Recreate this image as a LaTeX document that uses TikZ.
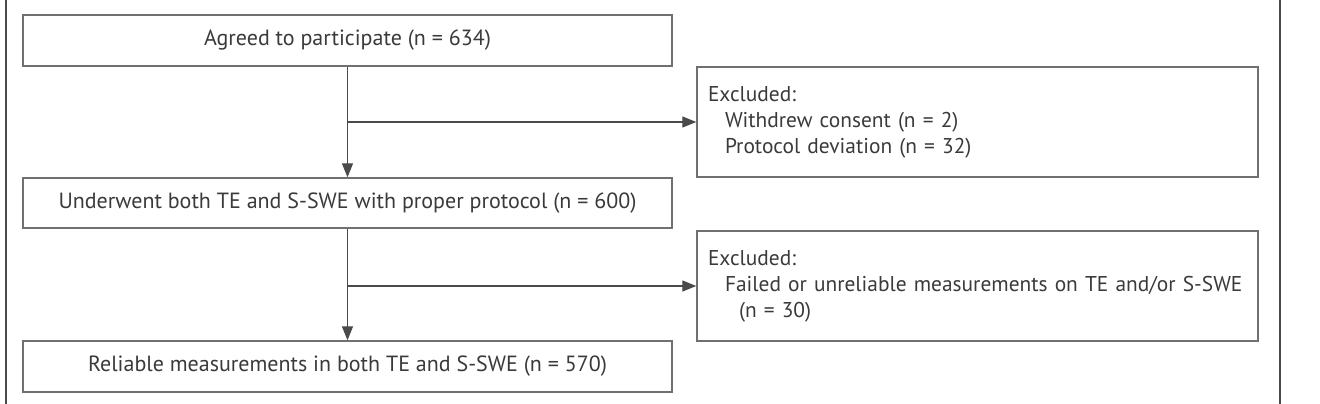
\documentclass[tikz,border=0pt]{standalone}
\usepackage{fontspec}
\setmainfont{PT Sans}
\usetikzlibrary{arrows.meta}
\definecolor{boxgray}{HTML}{707070}
\definecolor{txtgray}{HTML}{3A3A3A}
\definecolor{linegray}{HTML}{4A4A4A}
\tikzset{
  mainbox/.style={draw=boxgray, line width=1.4pt, minimum width=649pt, text=txtgray, font=\fontsize{22}{26}\selectfont, inner sep=0pt, align=center},
  exbox/.style={draw=boxgray, line width=1.4pt, minimum width=561pt, minimum height=110pt, text width=539pt, text=txtgray, font=\fontsize{21.4}{26}\selectfont, inner xsep=11pt, inner ysep=0pt, align=left},
  flow/.style={draw=linegray, line width=1.3pt, -{Triangle[length=14pt,width=11pt]}},
  border/.style={draw=linegray, line width=1.5pt}
}
\begin{document}
\begin{tikzpicture}[x=1pt,y=-1pt]
\useasboundingbox (0,0) rectangle (1320,404);
\coordinate (tl) at (6,0);
\coordinate (bl) at (6,404);
\coordinate (tr) at (1280,0);
\coordinate (br) at (1280,404);
\draw[border] (tl) -- (bl);
\draw[border] (tr) -- (br);

\node[mainbox, minimum height=51pt] (b1) at (347.5,40.5) {Agreed to participate (n = 634)};
\node[mainbox, minimum height=50pt] (b2) at (347.5,203) {Underwent both TE and S-SWE with proper protocol (n = 600)};
\node[mainbox, minimum height=51pt] (b3) at (347.5,366.5) {Reliable measurements in both TE and S-SWE (n = 570)};

\node[exbox] (e1) at (977.5,122) {Excluded:\\\hspace*{17pt}\mbox{Withdrew consent (n = 2)}\\\hspace*{17pt}\mbox{Protocol deviation (n = 32)}};
\node[exbox] (e2) at (977.5,286) {Excluded:\\\hspace*{17pt}\mbox{Failed or unreliable measurements on TE and/or S-SWE}\\\hspace*{31pt}\mbox{(n = 30)}};

\coordinate (j1) at (b1.south |- e1.west);
\coordinate (j2) at (b2.south |- e2.west);
\draw[flow] (b1.south) -- (b2.north);
\draw[flow] (j1) -- (e1.west);
\draw[flow] (b2.south) -- (b3.north);
\draw[flow] (j2) -- (e2.west);
\end{tikzpicture}
\end{document}
